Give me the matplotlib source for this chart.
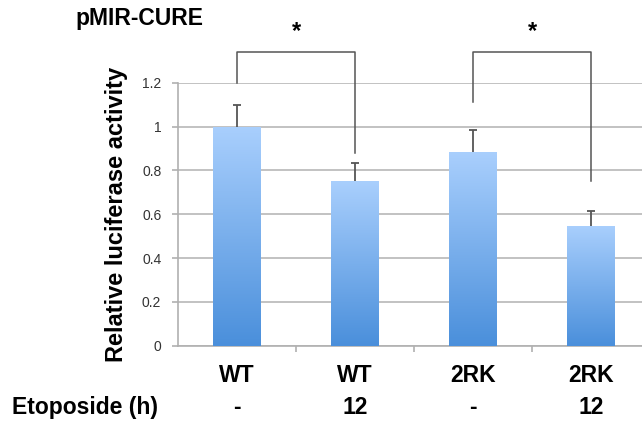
import numpy as np
import matplotlib.pyplot as plt
from matplotlib.colors import LinearSegmentedColormap

plt.rcParams['font.family'] = ['Liberation Sans', 'DejaVu Sans']

# data
genotypes = ['WT', 'WT', '2RK', '2RK']
etoposide = ['-', '12', '-', '12']
values = [1.0, 0.75, 0.885, 0.548]
errors = [0.10, 0.085, 0.10, 0.068]
# significance brackets: (left bar, right bar, left leg end, right leg end, top)
brackets = [(0, 1, 1.2, 0.88, 1.34), (2, 3, 1.11, 0.75, 1.34)]

fig = plt.figure(figsize=(6.42, 4.21), dpi=100)
ax = fig.add_axes([0.2773, 0.1789, 0.7352, 0.6247])

x = np.arange(len(values))
bars = ax.bar(x, values, width=0.4, color='none', edgecolor='none', zorder=3)

# vertical gradient fill in each bar
cmap = LinearSegmentedColormap.from_list('blu', ['#4a8fdb', '#a9cffd'])
grad = np.linspace(0, 1, 256).reshape(-1, 1)
for b in bars:
    x0, w, h = b.get_x(), b.get_width(), b.get_height()
    im = ax.imshow(grad, cmap=cmap, aspect='auto', origin='lower',
                   extent=[x0, x0 + w, 0, h], zorder=3)
    im.set_clip_path(b)

# upper error bars only
tops = np.array(values) + np.array(errors)
ax.vlines(x, values, tops, color='#555555', linewidth=1.3, zorder=4)
ax.hlines(tops, x - 0.035, x + 0.035, color='#555555', linewidth=1.3, zorder=4)

ax.set_xlim(-0.5, len(values) - 0.5)
ax.set_ylim(0, 1.2)
ax.set_yticks([0, 0.2, 0.4, 0.6, 0.8, 1.0, 1.2])
ax.set_yticklabels(['0', '0.2', '0.4', '0.6', '0.8', '1', '1.2'])
ax.yaxis.grid(True, color='#b8b8b8', linewidth=1.2, zorder=0)
ax.set_axisbelow(True)
for s in ['top', 'right']:
    ax.spines[s].set_visible(False)
for s in ['left', 'bottom']:
    ax.spines[s].set_color('#b0b0b0')
    ax.spines[s].set_linewidth(1.2)

ax.tick_params(axis='y', labelsize=10, labelcolor='#333333', color='#b0b0b0',
               length=4, width=1.2, pad=8)
ax.set_xticks(x)
ax.set_xticklabels(genotypes, fontsize=16.5, fontweight='bold')
ax.tick_params(axis='x', length=0, pad=13)
ax.set_xticks(x[:-1] + 0.5, minor=True)
ax.tick_params(axis='x', which='minor', length=4, width=1.2, color='#b0b0b0')

ax.set_ylabel('Relative luciferase activity', fontsize=17, fontweight='bold')
ax.yaxis.set_label_coords(-0.105, 0.5)

# etoposide row
for xi, lab in zip(x, etoposide):
    ax.text(xi, -0.28, lab, ha='center', va='center', fontsize=16.5,
            fontweight='bold', transform=ax.transData, clip_on=False)
fig.text(0.018, 0.033, 'Etoposide (h)', ha='left', va='center', fontsize=16.5,
         fontweight='bold')

fig.text(0.117, 0.955, 'pMIR-CURE', ha='left', va='center', fontsize=16.5,
         fontweight='bold')

# significance brackets
for i, j, yl, yr, top in brackets:
    ax.plot([x[i], x[i], x[j], x[j]], [yl, top, top, yr], color='#555555',
            linewidth=1.1, clip_on=False, zorder=5)
    ax.text((x[i] + x[j]) / 2, top + 0.04, '*', ha='center', va='bottom',
            fontsize=17, fontweight='bold', clip_on=False)

fig.savefig('out.png', dpi=100)
